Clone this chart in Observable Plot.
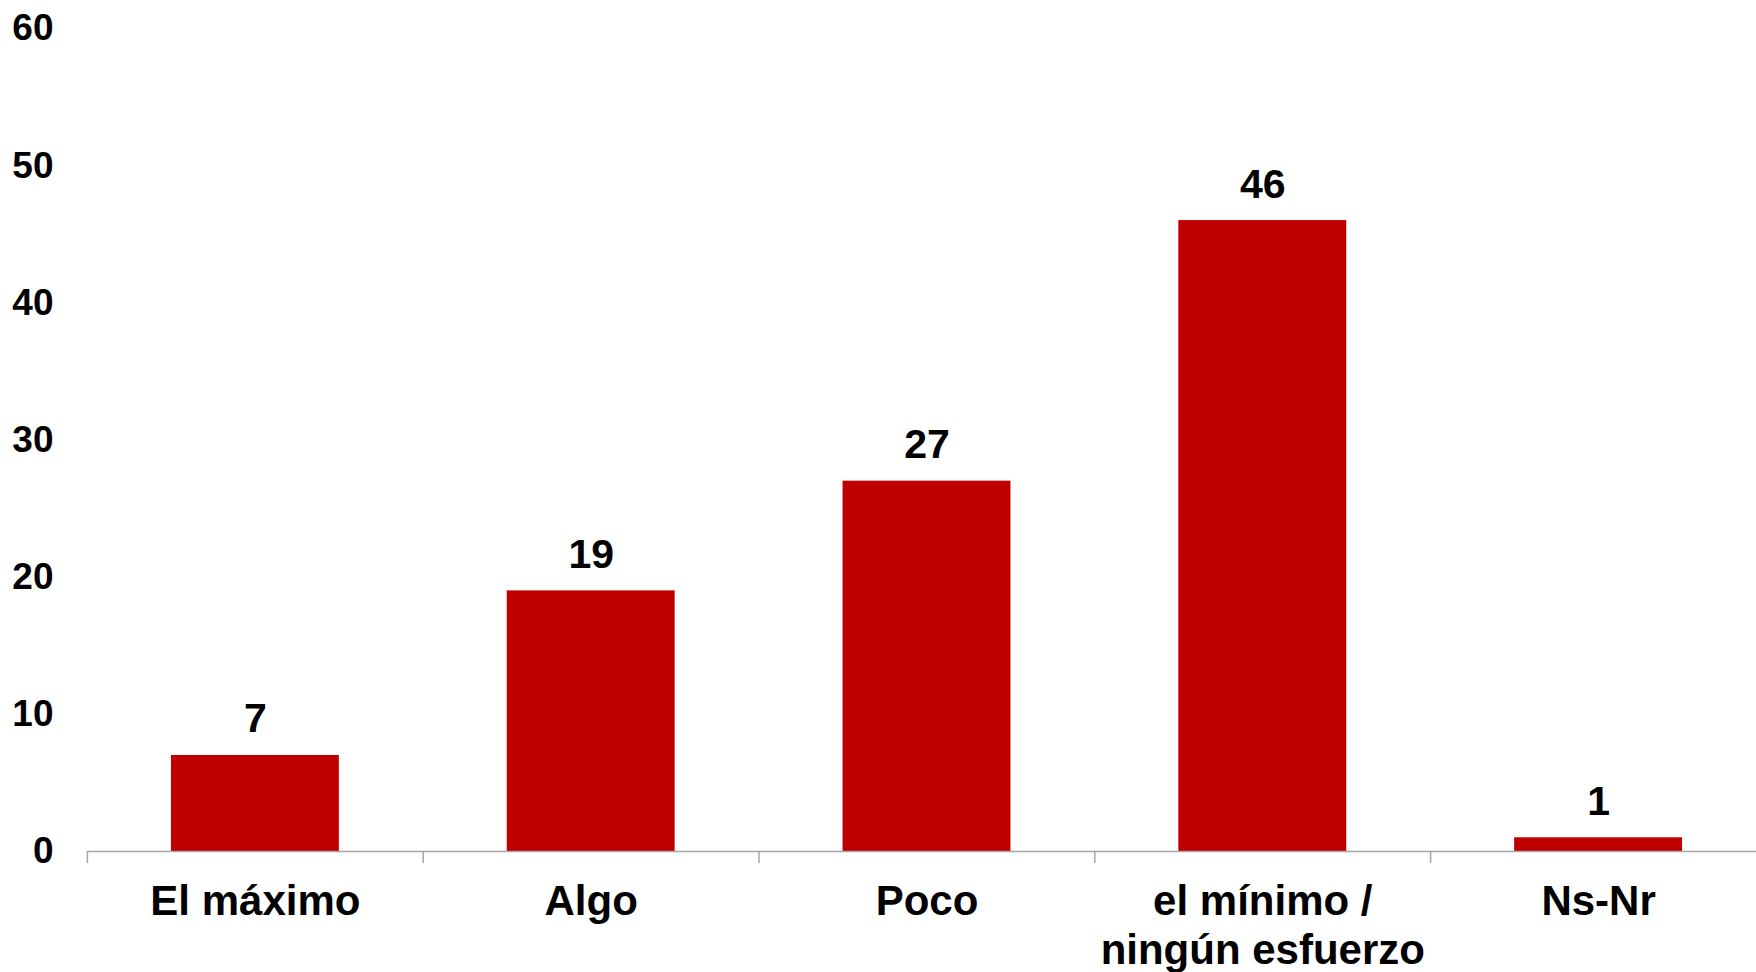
<!DOCTYPE html>
<html>
<head>
<meta charset="utf-8">
<script src="https://cdn.jsdelivr.net/npm/d3@7"></script>
<script src="https://cdn.jsdelivr.net/npm/@observablehq/plot@0.6"></script>
<style>
  html, body { margin: 0; padding: 0; background: #fff; overflow: hidden; }
  #chart svg { overflow: hidden; display: block; }
</style>
</head>
<body>
<div id="chart"></div>
<script>
const categories = ["El máximo", "Algo", "Poco", "el mínimo /\nningún esfuerzo", "Ns-Nr"];
const values = [7, 19, 27, 46, 1];
const yTicks = [0, 10, 20, 30, 40, 50, 60];

const data = categories.map((c, i) => ({category: c, value: values[i]}));
const font = "'Liberation Sans', Arial, sans-serif";

const chart = Plot.plot({
  width: 1756,
  height: 972,
  marginLeft: 87,
  marginRight: -10,
  marginTop: 28,
  marginBottom: 121,
  style: {fontFamily: font, fontWeight: "bold", fontSize: "37px", color: "#000", background: "#fff"},
  x: {domain: categories, paddingInner: 0.5, paddingOuter: 0.25, align: 0.5, round: false},
  y: {domain: [0, 60]},
  marks: [
    Plot.axisY({ticks: yTicks, tickSize: 0, tickPadding: 34, fontSize: 37, fontWeight: "bold", fill: "#000", label: null}),
    Plot.barY(data, {x: "category", y: "value", fill: "#C00000"}),
    Plot.ruleY([0], {stroke: "#a6a6a6", strokeWidth: 1.5}),
    Plot.axisX({tickSize: 12, text: null, dx: -168, stroke: "#a6a6a6", strokeWidth: 1.5, label: null}),
    Plot.axisX({tickSize: 0, tickPadding: 29, fontSize: 42, fontWeight: "bold", fill: "#000", lineHeight: 1.16, label: null}),
    Plot.text(data, {x: "category", y: "value", text: d => String(d.value), dy: -23, lineAnchor: "bottom", fontSize: 41, fontWeight: "bold", fill: "#000"})
  ]
});
document.getElementById("chart").appendChild(chart);
</script>
</body>
</html>
